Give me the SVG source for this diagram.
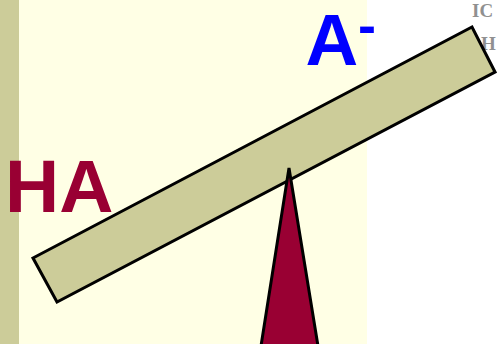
<svg xmlns="http://www.w3.org/2000/svg" width="497" height="344" viewBox="0 0 497 344">
<style>
.lbl{font-family:"Liberation Sans",Arial,sans-serif;font-weight:bold}
.shape{stroke:#000;stroke-width:3;stroke-linejoin:miter}
</style>
<rect x="0" y="0" width="497" height="344" fill="#ffffff"/>
<rect x="0" y="0" width="367" height="344" fill="#ffffe5"/>
<rect x="0" y="0" width="19" height="344" fill="#cccc99"/>
<g id="faded-text" fill="#909090" font-family="'Liberation Serif',serif" font-weight="bold" font-size="19">
<text x="472" y="17">IC</text>
<text x="481" y="50">H</text>
</g>
<g id="label-ha"><text class="lbl" x="5" y="212" font-size="75" fill="#990033">HA</text></g>
<g id="label-a"><text class="lbl" x="305.5" y="65" font-size="73" fill="#0000ff">A</text><text class="lbl" x="358" y="44" font-size="54" fill="#0000ff">-</text></g>
<g id="beam"><polygon class="shape" points="33,258 472,27 495,72 57,302" fill="#cccc99"/></g>
<g id="fulcrum"><polygon class="shape" points="289,168 318,346 261,346" fill="#990033"/></g>
</svg>
